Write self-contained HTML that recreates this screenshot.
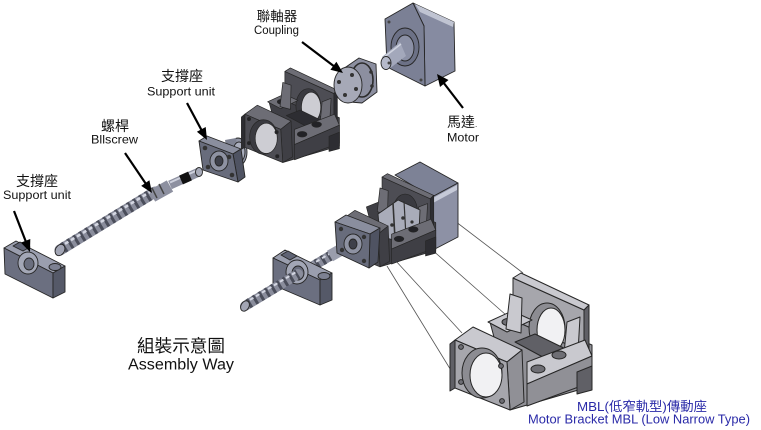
<!DOCTYPE html>
<html><head><meta charset="utf-8">
<style>
html,body{margin:0;padding:0;background:#fff;}
svg{display:block}
.br polygon,.br ellipse,.br circle{stroke:#262626;stroke-width:1;stroke-linejoin:round}
.m .a{fill:#a6a6ac}.m .b{fill:#c9c9cf}.m .c{fill:#909096}.m .d{fill:#606066}.m .h{fill:#8c8c92}.m .i{fill:#f1f1f3}.m .k{fill:#6e6e74}
.dk .a{fill:#4d4d54}.dk .b{fill:#6d6d75}.dk .c{fill:#3f3f45}.dk .d{fill:#2d2d32}.dk .h{fill:#3a3a40}.dk .i{fill:#cdcdd3}.dk .k{fill:#222226}
.s{stroke:#262626;stroke-width:0.9;stroke-linejoin:round}
.cj{font-family:"Liberation Sans","Noto Sans CJK TC",sans-serif;fill:#111}
.en{font-family:"Liberation Sans",sans-serif;fill:#111}
</style></head>
<body>
<svg width="761" height="430" viewBox="0 0 761 430" xmlns="http://www.w3.org/2000/svg">
<rect width="761" height="430" fill="#fff"/>

<!-- ===== Connection lines ===== -->
<g stroke="#555" stroke-width="0.8" fill="none">
<line x1="430" y1="202" x2="523" y2="273"/>
<line x1="430" y1="248" x2="506" y2="315"/>
<line x1="395" y1="260" x2="462" y2="333"/>
<line x1="387" y1="266" x2="452" y2="372"/>
</g>

<!-- ===== Left BF support block ===== -->
<polygon class="s" fill="#9a9eae" points="4,248 16,241 65,266 53,273"/>
<polygon class="s" fill="#5f6374" points="13,246 20,242 30,247 23,251"/>
<polygon class="s" fill="#6b6f80" points="4,248 53,273 53,298 5,274"/>
<polygon class="s" fill="#555968" points="53,273 65,266 65,292 53,298"/>
<ellipse class="s" fill="#7d8192" cx="55" cy="267" rx="6" ry="3.5"/>
<ellipse class="s" fill="#a3a7b6" cx="28" cy="263" rx="10" ry="11"/>
<ellipse class="s" fill="#6a6e7e" cx="29" cy="264" rx="5" ry="6"/>

<!-- ===== Left screw ===== -->
<line x1="60" y1="250" x2="155" y2="192" stroke="#8a8d9c" stroke-width="11" stroke-linecap="round"/>
<line x1="63" y1="248" x2="155" y2="192" stroke="#4a4d5a" stroke-width="11" stroke-dasharray="3 4"/>
<line x1="59" y1="247.5" x2="154" y2="189.5" stroke="#d4d7e2" stroke-width="2.5" stroke-dasharray="4 3"/>
<ellipse class="s" fill="#a2a5b4" cx="60" cy="250" rx="4.5" ry="6" transform="rotate(30 60 250)"/>
<line x1="152" y1="196" x2="170" y2="186" stroke="#8d90a0" stroke-width="13"/>
<line x1="157" y1="198" x2="152" y2="188" stroke="#444" stroke-width="1.5"/>
<line x1="164" y1="194" x2="159" y2="184" stroke="#444" stroke-width="1.5"/>
<line x1="170" y1="185" x2="199" y2="172" stroke="#8d90a0" stroke-width="9"/>
<line x1="170" y1="182.5" x2="199" y2="169.5" stroke="#cdd0dc" stroke-width="2"/>
<line x1="181" y1="180" x2="190" y2="176" stroke="#111" stroke-width="9.5"/>
<ellipse class="s" fill="#a8abb9" cx="199" cy="172" rx="3.5" ry="4.5"/>

<!-- ===== Exploded BK flange support ===== -->
<ellipse class="s" fill="#8f93a3" cx="238" cy="152" rx="9" ry="14"/>
<polygon fill="#7f8393" points="225,140 236,138 240,166 230,172"/>
<ellipse class="s" fill="#a9adbc" cx="239" cy="152" rx="6" ry="10"/>
<polygon class="s" fill="#8a8e9e" points="199,141 207,136 241,149 233,154"/>
<polygon class="s" fill="#4f5362" points="233,154 241,149 245,177 238,182"/>
<polygon class="s" fill="#686c7c" points="199,141 233,154 238,182 203,170"/>
<ellipse class="s" fill="#8e92a2" cx="219" cy="161" rx="9" ry="10"/>
<ellipse class="s" fill="#3e404a" cx="219" cy="161" rx="4" ry="5"/>
<circle fill="#333" cx="205" cy="148" r="2.3"/><circle fill="#333" cx="229" cy="157" r="2.3"/>
<circle fill="#333" cx="208" cy="167" r="2.3"/><circle fill="#333" cx="232" cy="175" r="2.3"/>

<!-- ===== Exploded dark bracket ===== -->
<g class="br dk" transform="translate(-69.1,-120.4) scale(0.69)">
<polygon class="c" points="490,322 515,312 592,345 592,386 510,410 500,360"/>
<polygon class="a" points="513,278 584,310 584,352 513,320"/>
<ellipse class="h" cx="547" cy="328" rx="18" ry="25"/>
<ellipse class="i" cx="551" cy="330" rx="14" ry="22"/>
<polygon class="b" points="513,278 521,273 589,305 584,310"/>
<polygon class="d" points="584,310 589,305 589,350 584,354"/>
<polygon class="b" points="488,322 512,311 532,320 507,332"/>
<ellipse class="k" cx="508" cy="322" rx="6" ry="3.5"/>
<polygon class="b" points="510,294 522,298 521,333 506,329"/>
<polygon class="b" points="567,322 580,317 578,352 564,354"/>
<polygon class="d" points="515,342 535,334 572,352 552,362"/>
<polygon class="b" points="527,362 585,340 592,356 527,384"/>
<ellipse class="k" cx="538" cy="369" rx="7" ry="4"/>
<ellipse class="k" cx="559" cy="355" rx="7" ry="4"/>
<polygon class="c" points="527,384 592,356 592,382 527,406"/>
<polygon class="d" points="577,372 592,366 592,390 577,394"/>
<polygon class="b" points="455,340 473,327 522,350 507,362"/>
<polygon class="c" points="507,362 522,350 524,402 510,410"/>
<polygon class="a" points="455,340 507,362 510,410 455,388"/>
<polygon class="d" points="450,344 455,340 455,388 450,391"/>
<ellipse class="h" cx="482" cy="373" rx="20" ry="25"/>
<ellipse class="i" cx="486" cy="375" rx="16" ry="22"/>
<circle class="k" cx="461" cy="347" r="2.4"/><circle class="k" cx="501" cy="366" r="2.4"/>
<circle class="k" cx="461" cy="382" r="2.4"/><circle class="k" cx="502" cy="401" r="2.4"/>
</g>

<!-- ===== Exploded coupling ===== -->
<polygon class="s" fill="#8c8fa0" points="343,69 359,58 376,64 377,92 362,103 350,102"/>
<ellipse fill="none" stroke="#2a2a2a" stroke-width="1.6" cx="362" cy="80" rx="11" ry="17"/>
<ellipse class="s" fill="#a6a9b7" cx="348" cy="85" rx="14" ry="18"/>
<circle fill="#333" cx="339" cy="82" r="2"/><circle fill="#333" cx="352" cy="75" r="2"/>
<circle fill="#333" cx="345" cy="95" r="2"/><circle fill="#333" cx="356" cy="89" r="2"/>
<circle fill="#333" cx="371" cy="72" r="1.8"/><circle fill="#333" cx="372" cy="86" r="1.8"/>

<!-- ===== Exploded motor ===== -->
<polygon class="s" fill="#868ba1" points="424,26 413,3 454,22 455,71 425,86"/>
<polygon fill="#c0c4d2" points="415,4 454,22 453,27 420,12"/>
<polygon class="s" fill="#7b8095" points="385,19 413,3 424,26 425,86 387,67"/>
<ellipse class="s" fill="#6c7186" cx="405" cy="47" rx="14" ry="19"/>
<ellipse class="s" fill="#8b90a5" cx="405" cy="48" rx="9" ry="13"/>
<polygon fill="#a3a8bb" points="400,42 406,56 389,69 382,57"/>
<line x1="383" y1="58" x2="401" y2="44" stroke="#d0d4e0" stroke-width="1.5"/>
<ellipse class="s" fill="#b6bacb" cx="386" cy="63" rx="5" ry="6.5"/>
<circle fill="#444" cx="389" cy="22" r="1.5"/><circle fill="#444" cx="421" cy="80" r="1.5"/>
<circle fill="#444" cx="389" cy="63" r="1.5"/>

<!-- ===== Assembled unit ===== -->
<polygon class="s" fill="#7d8296" points="395,175 420,162 458,183 432,197"/>
<polygon class="s" fill="#8d91a5" points="432,197 458,183 458,237 433,250"/>
<polygon fill="#c6cad8" points="433,198 457,185 457,190 433,203"/>
<g class="br dk" transform="translate(33.2,-12) scale(0.68)">
<polygon class="c" points="490,322 515,312 592,345 592,386 510,410 500,360"/>
<polygon class="a" points="513,278 584,310 584,352 513,320"/>
<ellipse class="h" cx="547" cy="328" rx="18" ry="25"/>
<polygon class="b" points="513,278 521,273 589,305 584,310"/>
<polygon class="d" points="584,310 589,305 589,350 584,354"/>
<polygon class="b" points="510,294 522,298 521,333 506,329"/>
<polygon class="b" points="567,322 580,317 578,352 564,354"/>
</g>
<polygon class="s" fill="#a9acb9" points="378,214 398,200 420,210 419,232 400,242 380,236"/>
<line x1="393" y1="203" x2="395" y2="239" stroke="#333" stroke-width="1.6"/>
<line x1="404" y1="201" x2="406" y2="237" stroke="#333" stroke-width="1.2"/>
<circle fill="#333" cx="392" cy="225" r="1.8"/><circle fill="#333" cx="403" cy="218" r="1.8"/><circle fill="#333" cx="412" cy="222" r="1.6"/>
<g class="br dk" transform="translate(33.2,-12) scale(0.68)">
<polygon class="b" points="527,362 585,340 592,356 527,384"/>
<ellipse class="k" cx="538" cy="369" rx="7" ry="4"/>
<ellipse class="k" cx="559" cy="355" rx="7" ry="4"/>
<polygon class="c" points="527,384 592,356 592,382 527,406"/>
<polygon class="d" points="577,372 592,366 592,390 577,394"/>
<polygon class="b" points="455,340 473,327 522,350 507,362"/>
<polygon class="c" points="507,362 522,350 524,402 510,410"/>
<polygon class="a" points="455,340 507,362 510,410 455,388"/>
</g>
<line x1="298" y1="275" x2="340" y2="250" stroke="#8a8d9c" stroke-width="10"/>
<line x1="298" y1="275" x2="330" y2="256" stroke="#4a4d5a" stroke-width="10" stroke-dasharray="3 4"/>
<line x1="298" y1="272.5" x2="340" y2="247.5" stroke="#d4d7e2" stroke-width="2" stroke-dasharray="4 3"/>
<line x1="330" y1="256" x2="344" y2="248" stroke="#9a9dac" stroke-width="12"/>
<polygon class="s" fill="#8a8e9e" points="335,222 346,215 380,228 370,234"/>
<polygon class="s" fill="#4f5362" points="370,234 380,228 378,262 369,268"/>
<polygon class="s" fill="#686c7c" points="335,222 370,234 369,268 337,253"/>
<ellipse class="s" fill="#8e92a2" cx="353" cy="244" rx="9" ry="10"/>
<ellipse class="s" fill="#3e404a" cx="353" cy="244" rx="4" ry="5"/>
<circle fill="#333" cx="341" cy="229" r="2.2"/><circle fill="#333" cx="364" cy="237" r="2.2"/>
<circle fill="#333" cx="342" cy="250" r="2.2"/><circle fill="#333" cx="364" cy="261" r="2.2"/>
<polygon class="s" fill="#9a9eae" points="273,258 285,250 332,273 320,280"/>
<polygon class="s" fill="#5f6374" points="281,255 288,251 297,256 290,260"/>
<polygon class="s" fill="#6b6f80" points="273,258 320,280 320,305 273,285"/>
<polygon class="s" fill="#555968" points="320,280 332,273 332,300 320,305"/>
<ellipse class="s" fill="#7d8192" cx="324" cy="276" rx="6" ry="3.5"/>
<ellipse class="s" fill="#a3a7b6" cx="297" cy="272" rx="11" ry="12"/>
<ellipse class="s" fill="#6a6e7e" cx="298" cy="273" rx="6" ry="7"/>
<line x1="245" y1="306" x2="298" y2="274" stroke="#8a8d9c" stroke-width="10" stroke-linecap="round"/>
<line x1="248" y1="304" x2="298" y2="274" stroke="#4a4d5a" stroke-width="10" stroke-dasharray="3 4"/>
<line x1="244" y1="303.5" x2="297" y2="271.5" stroke="#d4d7e2" stroke-width="2" stroke-dasharray="4 3"/>
<ellipse class="s" fill="#a2a5b4" cx="245" cy="306" rx="4" ry="5.5" transform="rotate(30 245 306)"/>

<!-- ===== MBL bracket (large) ===== -->
<g class="br m">
<polygon class="c" points="490,322 515,312 592,345 592,386 510,410 500,360"/>
<polygon class="a" points="513,278 584,310 584,352 513,320"/>
<ellipse class="h" cx="547" cy="328" rx="18" ry="25"/>
<ellipse class="i" cx="551" cy="330" rx="14" ry="22"/>
<polygon class="b" points="513,278 521,273 589,305 584,310"/>
<polygon class="d" points="584,310 589,305 589,350 584,354"/>
<polygon class="b" points="488,322 512,311 532,320 507,332"/>
<ellipse class="k" cx="508" cy="322" rx="6" ry="3.5"/>
<polygon class="b" points="510,294 522,298 521,333 506,329"/>
<polygon class="b" points="567,322 580,317 578,352 564,354"/>
<polygon class="d" points="515,342 535,334 572,352 552,362"/>
<polygon class="b" points="527,362 585,340 592,356 527,384"/>
<ellipse class="k" cx="538" cy="369" rx="7" ry="4"/>
<ellipse class="k" cx="559" cy="355" rx="7" ry="4"/>
<polygon class="c" points="527,384 592,356 592,382 527,406"/>
<polygon class="d" points="577,372 592,366 592,390 577,394"/>
<polygon class="b" points="455,340 473,327 522,350 507,362"/>
<polygon class="c" points="507,362 522,350 524,402 510,410"/>
<polygon class="a" points="455,340 507,362 510,410 455,388"/>
<polygon class="d" points="450,344 455,340 455,388 450,391"/>
<ellipse class="h" cx="482" cy="373" rx="20" ry="25"/>
<ellipse class="i" cx="486" cy="375" rx="16" ry="22"/>
<circle class="k" cx="461" cy="347" r="2.4"/><circle class="k" cx="501" cy="366" r="2.4"/>
<circle class="k" cx="461" cy="382" r="2.4"/><circle class="k" cx="502" cy="401" r="2.4"/>
</g>

<!-- ===== Arrows ===== -->
<g stroke="#000" stroke-width="2.2">
<line x1="302" y1="42" x2="335" y2="67"/>
<line x1="187" y1="103" x2="202" y2="131"/>
<line x1="125" y1="153" x2="146" y2="184"/>
<line x1="14" y1="211" x2="26" y2="242"/>
<line x1="463" y1="108" x2="443" y2="82"/>
</g>
<g fill="#000">
<polygon points="343,73 330.4,69.8 336.4,61.8"/>
<polygon points="207,140 196.9,131.8 205.7,127"/>
<polygon points="152,193 141.2,185.9 149.4,180.3"/>
<polygon points="30,252 20.9,242.6 30.3,239"/>
<polygon points="437,74 448.5,80 440,87"/>
</g>

<!-- ===== Labels ===== -->
<text class="cj" x="277" y="21" font-size="13.5" text-anchor="middle">聯軸器</text>
<text class="en" x="254" y="34" font-size="11.5" textLength="45" lengthAdjust="spacingAndGlyphs">Coupling</text>
<text class="cj" x="182" y="81" font-size="14" text-anchor="middle">支撐座</text>
<text class="en" x="147" y="95.5" font-size="12" textLength="68" lengthAdjust="spacingAndGlyphs">Support unit</text>
<text class="cj" x="115" y="131" font-size="14" text-anchor="middle">螺桿</text>
<text class="en" x="91" y="143.5" font-size="12" textLength="47" lengthAdjust="spacingAndGlyphs">Bllscrew</text>
<text class="cj" x="37" y="186" font-size="14" text-anchor="middle">支撐座</text>
<text class="en" x="3" y="199" font-size="12" textLength="68" lengthAdjust="spacingAndGlyphs">Support unit</text>
<text class="cj" x="447" y="127" font-size="14">馬達<tspan font-size="8">.</tspan></text>
<text class="en" x="447" y="141.5" font-size="12" textLength="32" lengthAdjust="spacingAndGlyphs">Motor</text>
<text class="cj" x="137" y="352" font-size="17.5" textLength="88" lengthAdjust="spacingAndGlyphs">組裝示意圖</text>
<text class="en" x="128" y="369.5" font-size="15.5" textLength="106" lengthAdjust="spacingAndGlyphs">Assembly Way</text>
<text x="577" y="411" font-size="13" fill="#2a2aa8" font-family="Liberation Sans, Noto Sans CJK TC, sans-serif" textLength="130" lengthAdjust="spacingAndGlyphs">MBL(低窄軌型)傳動座</text>
<text x="528" y="423.5" font-size="12.5" fill="#2a2aa8" font-family="Liberation Sans, sans-serif" textLength="222" lengthAdjust="spacingAndGlyphs">Motor Bracket MBL (Low Narrow Type)</text>
</svg>
</body></html>
